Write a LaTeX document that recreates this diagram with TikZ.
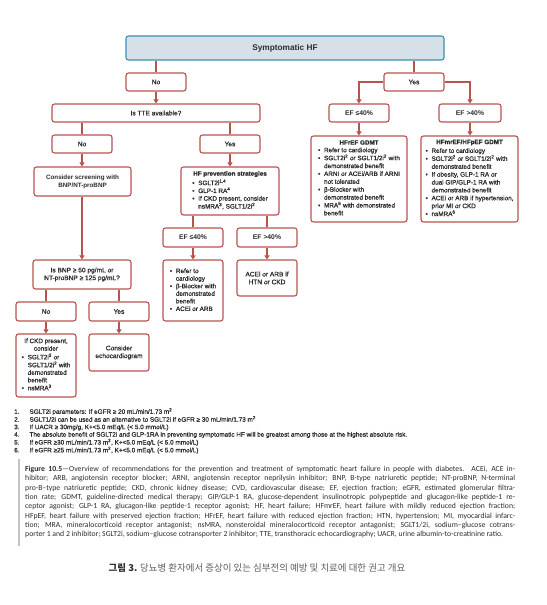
\documentclass[tikz,border=0pt]{standalone}
\usepackage{fontspec}
\setmainfont{Liberation Sans}
\newfontfamily\medfont{Liberation Sans}[FakeBold=1]
\newfontfamily\capfont{Carlito}
\newfontfamily\krfont{Noto Sans CJK KR}
\usetikzlibrary{arrows.meta}
\definecolor{brd}{RGB}{184,84,80}
\definecolor{txt}{RGB}{45,45,45}
\definecolor{symfill}{RGB}{214,224,232}
\definecolor{symbrd}{RGB}{62,142,180}
\definecolor{bargray}{RGB}{195,195,195}
\definecolor{krgray}{RGB}{95,95,95}
\newcommand\bl{\makebox[6bp][l]{\textbullet}}
\newcommand\ii{\hspace*{6bp}}
\newcommand\sps[1]{\textsuperscript{#1}}
\begin{document}
\begin{tikzpicture}[x=1bp,y=-1bp,
  box/.style={draw=brd, line width=1.1bp, rounded corners=2.5bp, fill=white,
    inner sep=0pt, text=txt, align=center, font=\medfont\fontsize{6.6}{7.8}\selectfont},
  titlebox/.style={draw=symbrd, line width=1.1bp, rounded corners=2.5bp, fill=symfill,
    inner sep=0pt, text=txt, font=\bfseries\fontsize{8.3}{10}\selectfont},
  bold/.style={font=\bfseries\fontsize{6.3}{7.8}\selectfont},
  eflabel/.style={font=\bfseries\fontsize{6.8}{7.8}\selectfont},
  ln/.style={draw=brd, line width=1.2bp},
  arr/.style={draw=brd, line width=1.2bp, -{Triangle[width=5bp,length=4bp]}},
  foot/.style={inner sep=0pt, text=txt, anchor=north west, font=\medfont\fontsize{6.4}{7.5}\selectfont},
  captext/.style={inner sep=0pt, text=txt, anchor=north west, align=left, font=\capfont\fontsize{7.75}{9.35}\selectfont},
  krtext/.style={inner sep=0pt, text=krgray, font=\krfont\fontsize{9.5}{10}\selectfont}
]
\useasboundingbox (0,0) rectangle (547,605);
\fill[white] (0,0) rectangle (547,605);

% top
\node[titlebox, minimum width=318bp, minimum height=24bp] (sym) at (285,48) {Symptomatic HF};
\node[box, minimum width=60bp, minimum height=18bp] (no1) at (156,82) {No};
\node[box, minimum width=60bp, minimum height=18bp] (yes1) at (414,82) {Yes};
\node[box, minimum width=208bp, minimum height=18bp] (tte) at (156,113) {Is TTE available?};
\node[box, eflabel, minimum width=60bp, minimum height=18bp] (efA) at (359,113) {EF ≤40\%};
\node[box, eflabel, minimum width=62bp, minimum height=18bp] (efB) at (470,113) {EF >40\%};

% right column GDMT
\node[box, minimum width=96bp, minimum height=86bp, font=\medfont\fontsize{6.4}{7.9}\selectfont] (hfref) at (359,179) {%
  {\bfseries\fontsize{6.3}{7.9}\selectfont HFrEF GDMT}\\[1bp]
  \begin{tabular}{@{}l@{}}
  \bl Refer to cardiology\\
  \bl SGLT2i\sps{2} or SGLT1/2i\sps{2} with\\
  \ii demonstrated benefit\\
  \bl ARNI or ACEi/ARB if ARNI\\
  \ii not tolerated\\
  \bl β-Blocker with\\
  \ii demonstrated benefit\\
  \bl MRA\sps{5} with demonstrated\\
  \ii benefit
  \end{tabular}};
\node[box, minimum width=97bp, minimum height=86bp, font=\medfont\fontsize{6.4}{7.9}\selectfont] (hfmref) at (469.5,179) {%
  {\bfseries\fontsize{6.3}{7.9}\selectfont HFmrEF/HFpEF GDMT}\\[1bp]
  \begin{tabular}{@{}l@{}}
  \bl Refer to cardiology\\
  \bl SGLT2i\sps{2} or SGLT1/2i\sps{2} with\\
  \ii demonstrated benefit\\
  \bl If obesity, GLP-1 RA or\\
  \ii dual GIP/GLP-1 RA with\\
  \ii demonstrated benefit\\
  \bl ACEi or ARB if hypertension,\\
  \ii prior MI or CKD\\
  \bl nsMRA\sps{6}
  \end{tabular}};

% TTE branches
\node[box, minimum width=60bp, minimum height=18bp] (no2) at (82,144) {No};
\node[box, minimum width=60bp, minimum height=18bp] (yes2) at (230,144) {Yes};
\node[box, bold, minimum width=97bp, minimum height=29bp] (screen) at (82.5,181.5) {Consider screening with\\BNP/NT-proBNP};
\node[box, minimum width=98bp, minimum height=48bp, font=\medfont\fontsize{6.4}{7.7}\selectfont] (prev) at (230,191) {%
  {\bfseries\fontsize{6.3}{7.7}\selectfont HF prevention strategies}\\[1.5bp]
  \begin{tabular}{@{}l@{}}
  \bl SGLT2i\sps{1,4}\\
  \bl GLP-1 RA\sps{4}\\
  \bl If CKD present, consider\\
  \ii nsMRA\sps{3}, SGLT1/2i\sps{2}
  \end{tabular}};

\node[box, eflabel, minimum width=60bp, minimum height=19bp] (efC) at (193,237.5) {EF ≤40\%};
\node[box, eflabel, minimum width=60bp, minimum height=19bp] (efD) at (267,237.5) {EF >40\%};
\node[box, minimum width=60bp, minimum height=61bp, font=\medfont\fontsize{6.4}{7.6}\selectfont] (refer) at (193,290.5) {%
  \begin{tabular}{@{}l@{}}
  \bl Refer to\\
  \ii cardiology\\
  \bl β-Blocker with\\
  \ii demonstrated\\
  \ii benefit\\
  \bl ACEi or ARB
  \end{tabular}};
\node[box, minimum width=60bp, minimum height=36bp] (acei) at (267,278) {ACEi or ARB if\\HTN or CKD};

% BNP branch
\node[box, minimum width=98bp, minimum height=29bp] (bnp) at (82,274.5) {Is BNP ≥ 50 pg/mL or\\NT-proBNP ≥ 125 pg/mL?};
\node[box, minimum width=60bp, minimum height=19bp] (no3) at (46,311.5) {No};
\node[box, minimum width=60bp, minimum height=19bp] (yes3) at (119,311.5) {Yes};
\node[box, minimum width=60bp, minimum height=63bp, font=\medfont\fontsize{6.4}{7.6}\selectfont] (ckd) at (46,365.5) {%
  If CKD present,\\consider\\[2bp]
  \begin{tabular}{@{}l@{}}
  \bl SGLT2i\sps{2} or\\
  \ii SGLT1/2i\sps{2} with\\
  \ii demonstrated\\
  \ii benefit\\
  \bl nsMRA\sps{3}
  \end{tabular}};
\node[box, minimum width=60bp, minimum height=37bp] (echo) at (119,352.5) {Consider\\echocardiogram};

% connectors
\draw[ln] (no1.north |- sym.south) -- (no1.north);
\draw[arr] (no1.south) -- (tte.north);
\draw[ln] (yes1.north |- sym.south) -- (yes1.north);
\draw[arr] (yes1.west) -| (efA.north);
\draw[arr] (yes1.east) -| (efB.north);
\draw[arr] (efA.south) -- (hfref.north);
\draw[arr] (efB.south) -- (efB.south |- hfmref.north);
\draw[ln] (no2.north |- tte.south) -- (no2.north);
\draw[ln] (yes2.north |- tte.south) -- (yes2.north);
\draw[arr] (no2.south) -- (no2.south |- screen.north);
\draw[arr] (yes2.south) -- (prev.north);
\draw[ln] (efC.north |- prev.south) -- (efC.north);
\draw[ln] (efD.north |- prev.south) -- (efD.north);
\draw[arr] (efC.south) -- (refer.north);
\draw[arr] (efD.south) -- (acei.north);
\draw[arr] (screen.south -| bnp.north) -- (bnp.north);
\draw[ln] (no3.north |- bnp.south) -- (no3.north);
\draw[ln] (yes3.north |- bnp.south) -- (yes3.north);
\draw[arr] (no3.south) -- (ckd.north);
\draw[arr] (yes3.south) -- (echo.north);

% footnotes
\node[foot] (notes) at (14,408) {%
  \begin{tabular}{@{}l@{\hspace{10bp}}l@{}}
  1. & SGLT2i parameters: If eGFR ≥ 20 mL/min/1.73 m\sps{2}\\
  2. & SGLT1/2i can be used as an alternative to SGLT2i if eGFR ≥ 30 mL/min/1.73 m\sps{2}\\
  3. & If UACR ≥ 30mg/g, K+<5.0 mEq/L (< 5.0 mmol/L)\\
  4. & The absolute benefit of SGLT2i and GLP-1RA in preventing symptomatic HF will be greatest among those at the highest absolute risk.\\
  5. & If eGFR ≥30 mL/min/1.73 m\sps{2}, K+<5.0 mEq/L (< 5.0 mmol/L)\\
  6. & If eGFR ≥25 mL/min/1.73 m\sps{2}, K+<5.0 mEq/L (< 5.0 mmol/L)
  \end{tabular}};

% caption
\draw[bargray, line width=1.5bp] (19,459) -- (19,546);
\node[captext] (caption) at (25,466) {%
  \makebox[490bp][s]{\textbf{Figure 10.5}—Overview of recommendations for the prevention and treatment of symptomatic heart failure in people with diabetes. ACEi, ACE in-}\\
  \makebox[490bp][s]{hibitor; ARB, angiotensin receptor blocker; ARNI, angiotensin receptor neprilysin inhibitor; BNP, B-type natriuretic peptide; NT-proBNP, N-terminal}\\
  \makebox[490bp][s]{pro-B–type natriuretic peptide; CKD, chronic kidney disease; CVD, cardiovascular disease; EF, ejection fraction; eGFR, estimated glomerular filtra-}\\
  \makebox[490bp][s]{tion rate; GDMT, guideline-directed medical therapy; GIP/GLP-1 RA, glucose-dependent insulinotropic polypeptide and glucagon-like peptide-1 re-}\\
  \makebox[490bp][s]{ceptor agonist; GLP-1 RA, glucagon-like peptide-1 receptor agonist; HF, heart failure; HFmrEF, heart failure with mildly reduced ejection fraction;}\\
  \makebox[490bp][s]{HFpEF, heart failure with preserved ejection fraction; HFrEF, heart failure with reduced ejection fraction; HTN, hypertension; MI, myocardial infarc-}\\
  \makebox[490bp][s]{tion; MRA, mineralocorticoid receptor antagonist; nsMRA, nonsteroidal mineralocorticoid receptor antagonist; SGLT1/2i, sodium–glucose cotrans-}\\
  porter 1 and 2 inhibitor; SGLT2i, sodium–glucose cotransporter 2 inhibitor; TTE, transthoracic echocardiography; UACR, urine albumin-to-creatinine ratio.};

% Korean caption
\node[krtext] (krcap) at (257,568) {{\color{txt}\bfseries 그림 3.} 당뇨병 환자에서 증상이 있는 심부전의 예방 및 치료에 대한 권고 개요};
\end{tikzpicture}
\end{document}
